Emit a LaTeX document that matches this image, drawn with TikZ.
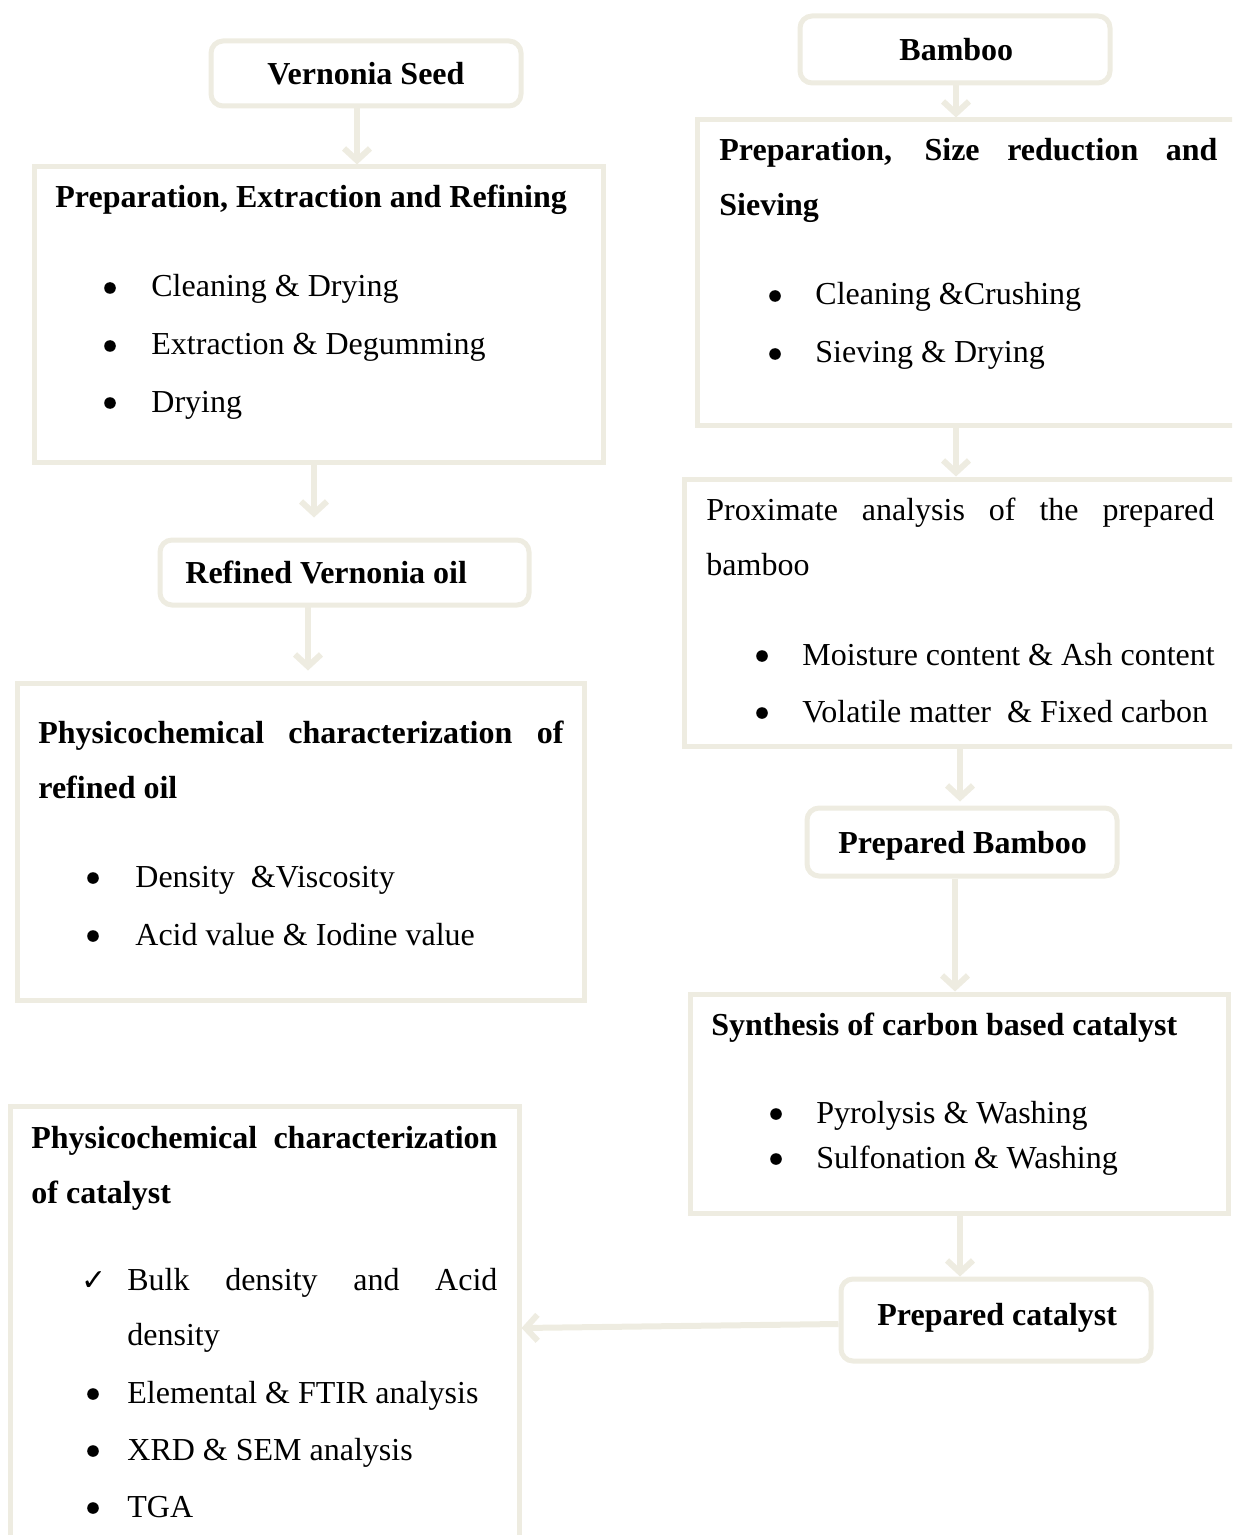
\documentclass[tikz,border=0pt]{standalone}
\usepackage{fontspec}
\setmainfont{Liberation Serif}
\newfontfamily\djv{DejaVu Sans}
\usetikzlibrary{arrows.meta,calc}
\definecolor{beige}{HTML}{EEECE1}
\newdimen\px \px=0.5pt
\tikzset{
  bx/.style={draw=beige, line width=2.5pt, fill=white, inner sep=0pt},
  rbx/.style={bx, rounded corners=6pt},
  arr/.style={draw=beige, line width=3pt, -{Straight Barb[length=6pt,width=13pt]}},
  txt/.style={anchor=base west, inner sep=0pt, font=\fontsize{16pt}{19pt}\selectfont},
  btxt/.style={txt, font=\fontsize{16pt}{19pt}\selectfont\bfseries},
  bul/.style={circle, fill=black, inner sep=0pt, minimum size=5.8pt},
}
\newcommand{\bulitem}[5]{%
  \node[bul] (#1b) at (#2,#4-9) {};
  \node[txt] (#1) at (#3,#4) {#5};}
\begin{document}
\begin{tikzpicture}[x=0.5pt,y=-0.5pt]
\useasboundingbox (0,0) rectangle (1232,1535);
\clip (0,0) rectangle (1232,1535);
% boxes
\node[rbx, minimum width=310\px, minimum height=65\px] (vseed) at (366,73.5) {};
\node[bx, minimum width=569\px, minimum height=295\px] (prep1) at (318.5,314.5) {};
\node[rbx, minimum width=369\px, minimum height=65\px] (refoil) at (344.5,572.5) {};
\node[bx, minimum width=567\px, minimum height=317\px] (phys1) at (300.5,841.5) {};
\node[rbx, minimum width=310\px, minimum height=67\px] (bamboo) at (955,49.5) {};
\node[bx, minimum width=553\px, minimum height=305\px] (prep2) at (973.5,272.5) {};
\node[bx, minimum width=566\px, minimum height=267\px] (prox) at (967,612.5) {};
\node[rbx, minimum width=310\px, minimum height=68\px] (prepbam) at (962,842) {};
\node[bx, minimum width=538\px, minimum height=219\px] (synth) at (959,1103.5) {};
\node[rbx, minimum width=310\px, minimum height=82\px] (prepcat) at (996,1320) {};
\node[bx, minimum width=509\px, minimum height=454\px] (phys2) at (264.5,1333) {};
% arrows
\draw[arr] ([xshift=-4.5pt]vseed.south) -- ([xshift=-4.5pt]vseed.south |- prep1.north);
\draw[arr, shorten >=10pt] ([xshift=-2.25pt]prep1.south) -- ([xshift=-2.25pt]prep1.south |- refoil.north);
\draw[arr, shorten >=5pt] ([xshift=-18.25pt,yshift=2pt]refoil.south) -- ([xshift=-18.25pt]refoil.south |- phys1.north);
\draw[arr] ([xshift=0.5pt]bamboo.south) -- ([xshift=0.5pt]bamboo.south |- prep2.north);
\draw[arr] ([xshift=-8.75pt]prep2.south) -- ([xshift=-8.75pt]prep2.south |- prox.north);
\draw[arr, shorten >=2pt] ([xshift=-3.5pt]prox.south) -- ([xshift=-3.5pt]prox.south |- prepbam.north);
\draw[arr] ([xshift=-3.5pt]prepbam.south) -- ([xshift=-3.5pt]prepbam.south |- synth.north);
\draw[arr] ([xshift=0.5pt]synth.south) -- ([xshift=0.5pt]synth.south |- prepcat.north);
\draw[arr] ([yshift=-2pt]prepcat.west) -- ([yshift=2.5pt]phys2.east);
% texts left
\node[btxt] (t1) at (267,85) {Vernonia Seed};
\node[btxt] (t2) at (55,208) {Preparation, Extraction and Refining};
\bulitem{t3}{110}{151}{297}{Cleaning \& Drying}
\bulitem{t4}{110}{151}{355}{Extraction \& Degumming}
\bulitem{t5}{110}{151}{412}{Drying}
\node[btxt] (t6) at (185,583) {Refined Vernonia oil};
\node[btxt] (t7) at (38,743) {\makebox[525\px][s]{Physicochemical characterization of}};
\node[btxt] (t8) at (38,798) {refined oil};
\bulitem{t9}{93}{135}{887}{Density\ \ \&Viscosity}
\bulitem{t10}{93}{135}{945}{Acid value \& Iodine value}
% texts right
\node[btxt] (r1) at (899,61) {Bamboo};
\node[btxt] (r2) at (719,161) {\makebox[498\px][s]{Preparation, Size reduction and}};
\node[btxt] (r3) at (719,216) {Sieving};
\bulitem{r4}{775}{815}{305}{Cleaning \&Crushing}
\bulitem{r5}{775}{815}{363}{Sieving \& Drying}
\node[txt] (r6) at (706,520) {\makebox[508\px][s]{Proximate analysis of the prepared}};
\node[txt] (r7) at (706,575) {bamboo};
\bulitem{r8}{762}{802}{665}{Moisture content \& Ash content}
\bulitem{r9}{762}{802}{722}{Volatile matter\ \ \& Fixed carbon}
\node[btxt] (r10) at (838,853) {Prepared Bamboo};
\node[btxt] (r11) at (711,1035) {Synthesis of carbon based catalyst};
\bulitem{r12}{776}{816}{1123}{Pyrolysis \& Washing}
\bulitem{r13}{776}{816}{1168}{Sulfonation \& Washing}
\node[btxt] (r14) at (877,1325) {Prepared catalyst};
% catalyst box texts
\node[btxt] (c1) at (31,1148) {\makebox[466\px][s]{Physicochemical characterization}};
\node[btxt] (c2) at (31,1203) {of catalyst};
\node[txt] (c3b) at (81,1290) {\djv\fontsize{15pt}{17pt}\selectfont ✓};
\node[txt] (c3) at (127,1290) {\makebox[370\px][s]{Bulk density and Acid}};
\node[txt] (c4) at (127,1345) {density};
\bulitem{c5}{93}{127}{1403}{Elemental \& FTIR analysis}
\bulitem{c6}{93}{127}{1460}{XRD \& SEM analysis}
\bulitem{c7}{93}{127}{1517}{TGA}
\end{tikzpicture}
\end{document}
